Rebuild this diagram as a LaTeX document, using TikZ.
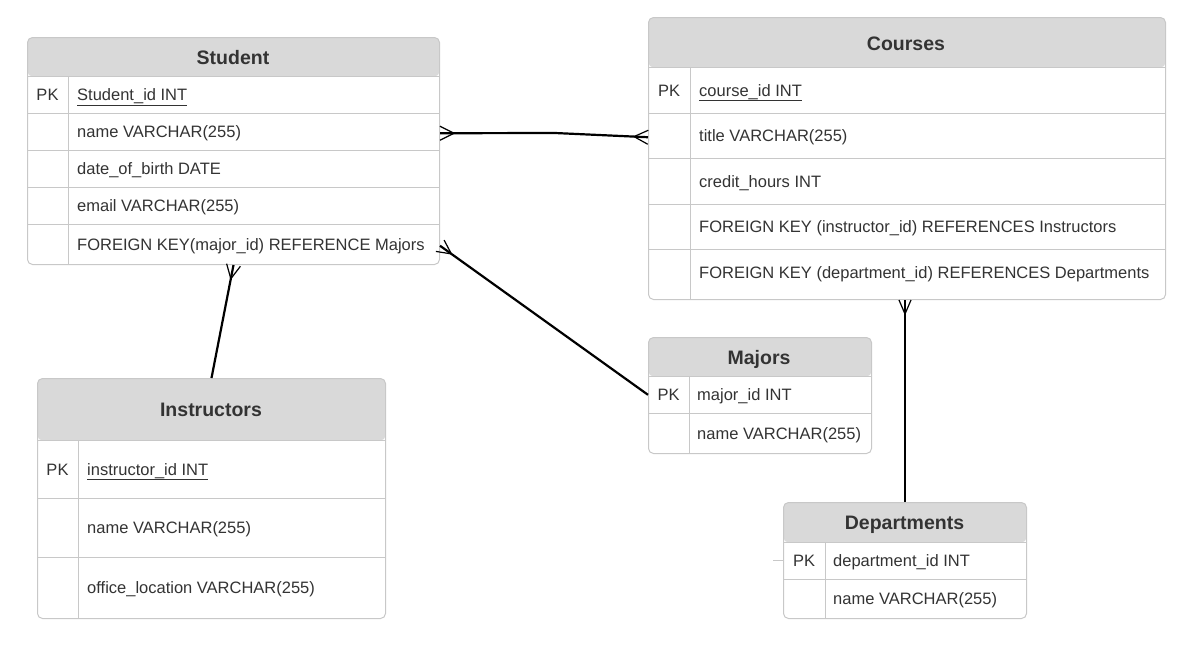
\documentclass[tikz,border=0pt]{standalone}
\usepackage{fontspec}
\setmainfont{Liberation Sans}
\usetikzlibrary{calc}
\definecolor{hdrgray}{HTML}{D9D9D9}
\definecolor{rulegray}{HTML}{C8C8C8}
\definecolor{txtgray}{HTML}{333333}

\begin{document}
\begin{tikzpicture}[x=1pt,y=-1pt,
    tbl/.style={draw=rulegray,line width=1pt,rounded corners=5pt,anchor=north west,inner sep=0pt,
        path picture={\fill[hdrgray] (path picture bounding box.north west)
            rectangle ([yshift=-#1]path picture bounding box.north east);}},
    sep/.style={draw=rulegray,line width=1pt},
    title/.style={font=\fontsize{19.5}{22}\selectfont\bfseries,text=txtgray,inner sep=0pt,
        anchor=base,yshift=-7pt},
    field/.style={font=\fontsize{16.5}{19}\selectfont,text=txtgray,anchor=base west,inner sep=0pt,
        yshift=-6pt},
    key/.style={font=\fontsize{16.5}{19}\selectfont,text=txtgray,inner sep=0pt,anchor=base,
        yshift=-6pt},
    link/.style={line width=2.2pt,black},
    foot/.style={line width=1.2pt,black,line join=round}]
\useasboundingbox (0,0) rectangle (1196,662);

% Student
\node[tbl=39pt,minimum width=412pt,minimum height=227pt] (student) at (27,37) {};
\node[title] (studentT) at (233,57) {Student};
\draw[sep] (27,76)--(439,76) (27,113)--(439,113) (27,150)--(439,150)
    (27,187)--(439,187) (27,224)--(439,224) (68,76)--(68,264);
\node[key] (stuPK) at (47.5,94.5) {PK};
\node[field] (stuId) at (77,94.5) {\underline{Student\_id INT}};
\node[field] (stuName) at (77,131.5) {name VARCHAR(255)};
\node[field] (stuDob) at (77,168.5) {date\_of\_birth DATE};
\node[field] (stuEmail) at (77,205.5) {email VARCHAR(255)};
\node[field] (stuMajor) at (77,244) {FOREIGN KEY(major\_id) REFERENCE Majors};

% Courses
\node[tbl=50pt,minimum width=517pt,minimum height=282pt] (courses) at (648,17) {};
\node[title] (coursesT) at (906,43) {Courses};
\draw[sep] (648,67)--(1165,67) (648,113)--(1165,113) (648,158)--(1165,158)
    (648,204)--(1165,204) (648,249)--(1165,249) (690,67)--(690,299);
\node[key] (crsPK) at (669,90) {PK};
\node[field] (crsId) at (699,90) {\underline{course\_id INT}};
\node[field] (crsTitle) at (699,135.5) {title VARCHAR(255)};
\node[field] (crsHours) at (699,181) {credit\_hours INT};
\node[field] (crsInstr) at (699,226.5) {FOREIGN KEY (instructor\_id) REFERENCES Instructors};
\node[field] (crsDept) at (699,272) {FOREIGN KEY (department\_id) REFERENCES Departments};

% Majors
\node[tbl=39pt,minimum width=223pt,minimum height=116pt] (majors) at (648,337) {};
\node[title] (majorsT) at (759,357) {Majors};
\draw[sep] (648,376)--(871,376) (648,413)--(871,413) (689,376)--(689,453);
\node[key] (majPK) at (668.5,394.5) {PK};
\node[field] (majId) at (697,394.5) {major\_id INT};
\node[field] (majName) at (697,433) {name VARCHAR(255)};

% Instructors
\node[tbl=62pt,minimum width=348pt,minimum height=240pt] (instructors) at (37,378) {};
\node[title] (instructorsT) at (211,409) {Instructors};
\draw[sep] (37,440)--(385,440) (37,498)--(385,498) (37,557)--(385,557) (78,440)--(78,618);
\node[key] (insPK) at (57.5,469) {PK};
\node[field] (insId) at (87,469) {\underline{instructor\_id INT}};
\node[field] (insName) at (87,527.5) {name VARCHAR(255)};
\node[field] (insOffice) at (87,587) {office\_location VARCHAR(255)};

% Departments
\node[tbl=40pt,minimum width=243pt,minimum height=116pt] (departments) at (783,502) {};
\node[title] (departmentsT) at (904.5,522) {Departments};
\draw[sep] (783,542)--(1026,542) (783,579)--(1026,579) (825,542)--(825,618);
\node[key] (depPK) at (804,560.5) {PK};
\node[field] (depId) at (833,560.5) {department\_id INT};
\node[field] (depName) at (833,598.5) {name VARCHAR(255)};
\draw[sep] (departments.west |- depPK) -- ++(-10,0);

% links
\coordinate (nameEnd) at (student.east |- stuName);
\coordinate (titleEnd) at (courses.west |- crsTitle);
\coordinate (bend) at (555,133);
\coordinate (fkEnd) at (student.east |- stuMajor);
\coordinate (majEnd) at (majors.west |- majPK);
\coordinate (crsEnd) at (courses.south -| departments.north);

\draw[link] (nameEnd) -- (bend) -- (titleEnd);
\draw[foot] ($(nameEnd)!7pt!90:(bend)$) -- ($(nameEnd)!14pt!(bend)$) -- ($(nameEnd)!7pt!-90:(bend)$);
\draw[foot] ($(titleEnd)!7pt!90:(bend)$) -- ($(titleEnd)!14pt!(bend)$) -- ($(titleEnd)!7pt!-90:(bend)$);

\draw[link] (fkEnd) -- (majEnd);
\draw[foot] ($(fkEnd)!7pt!90:(majEnd)$) -- ($(fkEnd)!14pt!(majEnd)$) -- ($(fkEnd)!7pt!-90:(majEnd)$);

\draw[link] (student.south) -- (instructors.north);
\draw[foot] ($(student.south)!7pt!90:(instructors.north)$) -- ($(student.south)!14pt!(instructors.north)$)
    -- ($(student.south)!7pt!-90:(instructors.north)$);

\draw[link] (crsEnd) -- (departments.north);
\draw[foot] ($(crsEnd)!6pt!90:(departments.north)$) -- ($(crsEnd)!14pt!(departments.north)$)
    -- ($(crsEnd)!6pt!-90:(departments.north)$);
\end{tikzpicture}
\end{document}
